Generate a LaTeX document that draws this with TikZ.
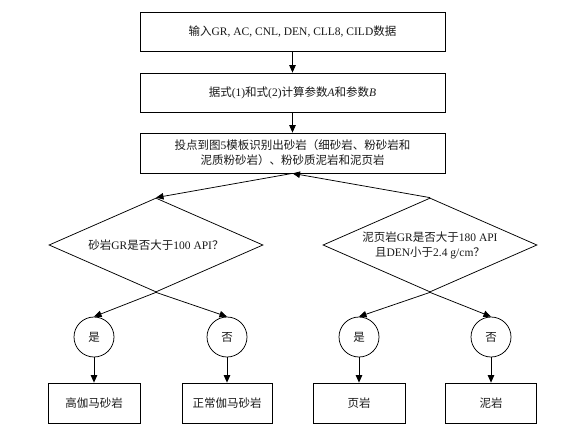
\documentclass[tikz,border=0pt]{standalone}
\usepackage{fontspec}
\setmainfont{Liberation Serif}
\newfontfamily\cjk{Noto Sans CJK SC}
\usetikzlibrary{shapes.geometric,arrows.meta}
\newcommand\zh[1]{{\cjk #1}}
\begin{document}
\begin{tikzpicture}[x=1pt,y=-1pt,
  every node/.style={font=\fontsize{11.5}{15}\selectfont, text=black!90},
  rbox/.style={draw, line width=0.75pt, inner sep=0pt, align=center},
  dia/.style={draw, diamond, aspect=2.28, line width=0.75pt, inner sep=0pt, minimum width=214pt, minimum height=94pt, align=center},
  circ/.style={draw, circle, line width=0.75pt, minimum size=40pt, inner sep=0pt},
  arr/.style={line width=0.75pt, -{Triangle[length=7.5pt,width=6.5pt]}}]
\fill[white] (0,0) rectangle (570,439);
\useasboundingbox (0,0) rectangle (570,439);
\node[rbox, minimum width=305pt, minimum height=39pt] (b1) at (292.5,31.5) {\zh{输入}GR, AC, CNL, DEN, CLL8, CILD\zh{数据}};
\node[rbox, minimum width=305pt, minimum height=39pt] (b2) at (292.5,92.5) {\zh{据式}(1)\zh{和式}(2)\zh{计算参数}\textit{A}\zh{和参数}\textit{B}};
\node[rbox, minimum width=305pt, minimum height=40pt] (b3) at (292.5,153) {\zh{投点到图}5\zh{模板识别出砂岩（细砂岩、粉砂岩和}\\\zh{泥质粉砂岩）、粉砂质泥岩和泥页岩}};
\node[dia] (ld) at (156,245) {\zh{砂岩}GR\zh{是否大于}100 API\zh{？}};
\node[dia] (rd) at (430,245) {\zh{泥页岩}GR\zh{是否大于}180 API\\\zh{且}DEN\zh{小于}2.4 g/cm\zh{？}};
\node[circ] (c1) at (94,337) {\zh{是}};
\node[circ] (c2) at (227,337) {\zh{否}};
\node[circ] (c3) at (359,337) {\zh{是}};
\node[circ] (c4) at (491,337) {\zh{否}};
\node[rbox, minimum width=92pt, minimum height=40pt] (l1) at (94,403) {\zh{高伽马砂岩}};
\node[rbox, minimum width=90pt, minimum height=40pt] (l2) at (227,403) {\zh{正常伽马砂岩}};
\node[rbox, minimum width=92pt, minimum height=40pt] (r1) at (359,403) {\zh{页岩}};
\node[rbox, minimum width=91pt, minimum height=40pt] (r2) at (491,403) {\zh{泥岩}};
\draw[arr] (b1) -- (b2);
\draw[arr] (b2) -- (b3);
\draw[arr] (rd.north) -- (b3.south);
\draw[arr] (b3.south) -- (ld.north);
\draw[arr] (ld.south) -- (c1.north);
\draw[arr] (ld.south) -- (c2.north);
\draw[arr] (rd.south) -- (c3.north);
\draw[arr] (rd.south) -- (c4.north);
\draw[arr] (c1) -- (l1);
\draw[arr] (c2) -- (l2);
\draw[arr] (c3) -- (r1);
\draw[arr] (c4) -- (r2);
\end{tikzpicture}
\end{document}
